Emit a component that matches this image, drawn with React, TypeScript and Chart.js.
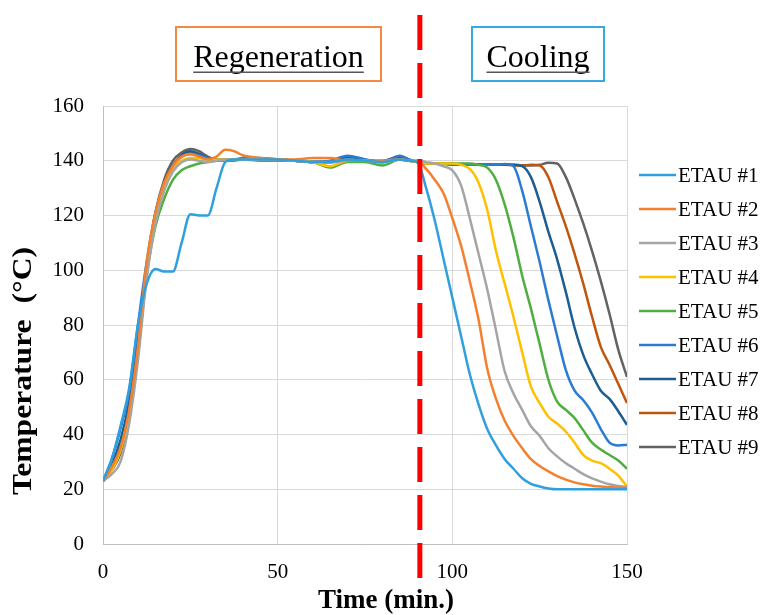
import React, { useEffect, useRef } from 'react';
import { Chart, registerables } from 'chart.js';

Chart.register(...registerables);

// time axis (min.)
const time = [
  0, 2.5, 5, 7.5, 10, 12.5, 15, 17.5, 20, 22.5, 25, 27.5, 30, 32.5, 35,
  37.5, 40, 45, 50, 55, 60, 65, 70, 75, 80, 85, 87.5,
  90, 92.5, 95, 97.5, 100, 102.5, 105, 107.5, 110, 112.5, 115, 117.5, 120, 122.5,
  125, 127.5, 130, 132.5, 135, 137.5, 140, 142.5, 145, 147.5, 150,
];

const seriesNames = ['ETAU #1', 'ETAU #2', 'ETAU #3', 'ETAU #4', 'ETAU #5', 'ETAU #6', 'ETAU #7', 'ETAU #8', 'ETAU #9'];
const seriesColors = ['#2FA0DE', '#F4802F', '#A5A5A5', '#FFC000', '#4EAE3E', '#2C7BD3', '#1C5E92', '#C0560E', '#636363'];

const etau1 = [
  23, 31, 43, 57, 80, 95, 100.5, 99.5, 99.5, 110, 120.5, 120, 120, 130, 139.5,
  140.5, 140.5, 140.5, 140.5, 140, 139.5, 139.5, 140.5, 140, 139.5, 140.5, 140,
  139.5, 130, 118, 104, 90, 76, 62, 51, 42, 36, 31, 27.5, 24, 22, 21, 20.3, 20, 20, 20, 20, 20, 20, 20, 20, 20,
];
const etau2 = [
  23, 28, 35, 49, 72, 103, 121, 132, 138, 141.5, 142.5, 141.5, 140.5, 141.5, 144,
  143.5, 142, 141, 140.5, 140.5, 141, 141, 140, 140, 140, 140.5, 140,
  140, 137, 133, 128, 119, 109, 96, 82, 64, 53, 45, 39.5, 35, 31, 28.5, 26.5, 24.8, 23.5, 22.5, 21.8, 21.3, 21, 20.8, 20.6, 20.5,
];
const etau3 = [
  23, 25.5, 30, 44, 67, 97, 117, 129, 136, 139.5, 140.5, 140, 139.5, 140, 140.5,
  140.5, 140.5, 140.5, 140.5, 140, 139.5, 139.5, 140, 140, 139.5, 140.5, 140,
  140, 139.5, 139, 138, 136.5, 131, 119, 106, 93, 78, 63, 55, 49, 43, 39.5, 35, 32, 29.5, 27.5, 25.5, 24, 22.8, 21.8, 21.2, 20.8,
];
const etau4 = [
  23, 27, 34, 47, 70, 99, 118, 130, 137, 140, 141, 141, 140.5, 140.5, 140.5,
  140.5, 140.5, 140.5, 140.5, 140, 139.5, 138, 140, 140, 139.5, 140.5, 140,
  139.5, 139, 139, 139, 139, 138.5, 137, 132, 122, 107, 95, 83, 70, 57.5, 51.5, 46.5, 44, 41, 37, 32.5, 30.5, 29.5, 27.5, 25, 21,
];
const etau5 = [
  23, 28, 35, 48, 70, 98, 116, 126, 133, 136.5, 138, 139, 139.5, 140, 140,
  140, 140.5, 140, 140, 140, 139.5, 137.5, 139.5, 139.5, 138.3, 140.5, 140,
  139.5, 139, 139, 139, 139, 139, 139, 138.5, 137.5, 133, 124, 112, 98, 86, 73, 60, 52, 49, 46, 41.5, 37, 34.5, 32.5, 30.5, 27.5,
];
const etau6 = [
  23, 31, 42, 56, 80, 103, 121, 131, 138, 141.5, 142.5, 142, 141, 140.5, 140.5,
  140.5, 141, 141, 140.5, 140, 139.5, 140, 141.8, 140.5, 139.5, 141.8, 140.5,
  139.5, 139, 139, 139, 139, 138.5, 138.5, 138.5, 138.5, 138.5, 138.8, 138, 129, 116, 103, 89, 76, 63.5, 56, 52.5, 48, 42, 37, 36, 36.3,
];
const etau7 = [
  23, 29, 38, 52, 75, 101, 120, 131, 138, 142, 143.5, 142.5, 141, 140.5, 140.5,
  140.5, 140.5, 140.5, 140.5, 140, 139.5, 139.5, 141.5, 140.5, 139.5, 141.5, 140.5,
  139.5, 139, 139, 139, 139, 138.5, 138.5, 138.5, 138.5, 138.5, 138.5, 138.5, 138, 134, 125, 114, 104, 92, 79, 69, 62, 56, 53, 48.5, 43.5,
];
const etau8 = [
  23, 28, 35, 48, 71, 100, 120, 131, 138, 142, 143, 142.5, 141, 140.5, 140.5,
  140.5, 140.5, 140.5, 140.5, 140, 139.5, 139.5, 140, 140, 139.5, 140.5, 140,
  139.5, 139, 139, 139, 138.5, 138.5, 138.5, 138.5, 138.5, 138.5, 138.5, 138.3, 138.3, 138.5, 138.3, 134, 125, 116, 106, 95, 83, 72, 65.5, 58.5, 51.5,
];
const etau9 = [
  23, 27, 33, 46, 69, 100, 121, 133, 140, 143, 144.3, 143.5, 141.5, 140.5, 140.5,
  140.5, 140.5, 140.5, 140.5, 140, 139.5, 139.5, 140.5, 140, 140, 141.5, 140.5,
  139.5, 139, 139, 139, 138.5, 138.5, 138.5, 138.5, 138.5, 138.5, 138.5, 138.5, 138.3, 138.3, 138.5, 139.3, 139, 134, 126, 117, 107, 96, 84, 71, 61,
];
const seriesValues = [etau1, etau2, etau3, etau4, etau5, etau6, etau7, etau8, etau9];

const switchTime = 90.7; // regeneration -> cooling
const xTicks = [0, 50, 100, 150];
const yTicks = [0, 20, 40, 60, 80, 100, 120, 140, 160];
const xTitle = 'Time (min.)';
const yTitle = 'Temperature  (°C)';

const FONT = "'Liberation Serif', 'Times New Roman', serif";

const redLinePlugin = {
  id: 'redLine',
  afterDatasetsDraw(chart: any) {
    const ctx = chart.ctx;
    const x = chart.scales.x.getPixelForValue(switchTime);
    ctx.save();
    ctx.strokeStyle = '#FF0000';
    ctx.lineWidth = 5;
    ctx.setLineDash([35, 13]);
    ctx.beginPath();
    ctx.moveTo(x, 15);
    ctx.lineTo(x, 578);
    ctx.stroke();
    ctx.restore();
  },
};

const phaseBoxPlugin = {
  id: 'phaseBoxes',
  afterDraw(chart: any) {
    const ctx = chart.ctx;
    const boxes = [
      { text: 'Regeneration', x: 176, w: 205, color: '#F28A44' },
      { text: 'Cooling', x: 472, w: 132, color: '#3AA8E2' },
    ];
    ctx.save();
    for (const b of boxes) {
      ctx.strokeStyle = b.color;
      ctx.lineWidth = 2;
      ctx.strokeRect(b.x, 27, b.w, 54);
      ctx.font = `32px ${FONT}`;
      ctx.fillStyle = '#000';
      ctx.textAlign = 'center';
      ctx.textBaseline = 'alphabetic';
      const cx = b.x + b.w / 2;
      ctx.fillText(b.text, cx, 67);
      const tw = ctx.measureText(b.text).width;
      ctx.fillStyle = '#555';
      ctx.fillRect(cx - tw / 2, 71.5, tw, 1.5);
    }
    ctx.restore();
  },
};

const axisTitlePlugin = {
  id: 'axisTitles',
  afterDraw(chart: any) {
    const ctx = chart.ctx;
    const area = chart.chartArea;
    ctx.save();
    ctx.fillStyle = '#000';
    ctx.font = `bold 27px ${FONT}`;
    ctx.textAlign = 'center';
    ctx.textBaseline = 'middle';
    ctx.fillText(xTitle, (area.left + area.right) / 2 + 21, 601);
    ctx.translate(24, (area.top + area.bottom) / 2 + 46);
    ctx.rotate(-Math.PI / 2);
    const w = ctx.measureText(yTitle).width;
    ctx.scale(248 / w, 1);
    ctx.fillText(yTitle, 0, 0);
    ctx.restore();
  },
};

const legendPlugin = {
  id: 'sideLegend',
  afterDraw(chart: any) {
    const ctx = chart.ctx;
    ctx.save();
    ctx.font = `21px ${FONT}`;
    ctx.textBaseline = 'middle';
    ctx.textAlign = 'left';
    chart.data.datasets.forEach((ds: any, i: number) => {
      const y = 175 + i * 34;
      ctx.strokeStyle = ds.borderColor;
      ctx.lineWidth = 2.5;
      ctx.beginPath();
      ctx.moveTo(639, y);
      ctx.lineTo(676, y);
      ctx.stroke();
      ctx.fillStyle = '#000';
      ctx.fillText(ds.label, 678, y + 1);
    });
    ctx.restore();
  },
};

const bgPlugin = {
  id: 'bg',
  beforeDraw(chart: any) {
    const ctx = chart.ctx;
    ctx.save();
    ctx.fillStyle = '#fff';
    ctx.fillRect(0, 0, chart.width, chart.height);
    ctx.restore();
  },
};

export default function App() {
  const ref = useRef<HTMLCanvasElement | null>(null);
  useEffect(() => {
    if (!ref.current) return;
    Chart.defaults.font.family = FONT;
    const datasets = seriesNames.map((name, i) => ({
      label: name,
      data: time.map((t, j) => ({ x: t, y: seriesValues[i][j] })),
      borderColor: seriesColors[i],
      backgroundColor: seriesColors[i],
      borderWidth: 2.5,
      pointRadius: 0,
      cubicInterpolationMode: 'monotone' as const,
      fill: false,
    }));
    const chart = new Chart(ref.current, {
      type: 'line',
      data: { datasets },
      options: {
        responsive: false,
        animation: false,
        layout: { padding: { left: 0, top: 106, right: 136, bottom: 0 } },
        plugins: { legend: { display: false }, tooltip: { enabled: false } },
        scales: {
          x: {
            type: 'linear',
            min: 0,
            max: 150,
            afterBuildTicks: (s: any) => { s.ticks = xTicks.map((v) => ({ value: v })); },
            ticks: { color: '#000', font: { size: 21, family: FONT }, padding: 16, maxRotation: 0 },
            grid: { color: '#D9D9D9', drawTicks: false, lineWidth: 1 },
            border: { color: '#BFBFBF' },
            afterFit: (s: any) => { s.height = 71; },
          },
          y: {
            type: 'linear',
            min: 0,
            max: 160,
            afterBuildTicks: (s: any) => { s.ticks = yTicks.map((v) => ({ value: v })); },
            ticks: { color: '#000', font: { size: 21, family: FONT }, padding: 19 },
            grid: { color: '#D9D9D9', drawTicks: false, lineWidth: 1 },
            border: { color: '#BFBFBF' },
            afterFit: (s: any) => { s.width = 103; },
          },
        },
      },
      plugins: [bgPlugin, redLinePlugin, phaseBoxPlugin, axisTitlePlugin, legendPlugin],
    });
    return () => chart.destroy();
  }, []);
  return (
    <div style={{ position: 'fixed', left: 0, top: 0, width: 763, height: 615, background: '#fff' }}>
      <canvas ref={ref} width={763} height={615} style={{ display: 'block' }} />
    </div>
  );
}
